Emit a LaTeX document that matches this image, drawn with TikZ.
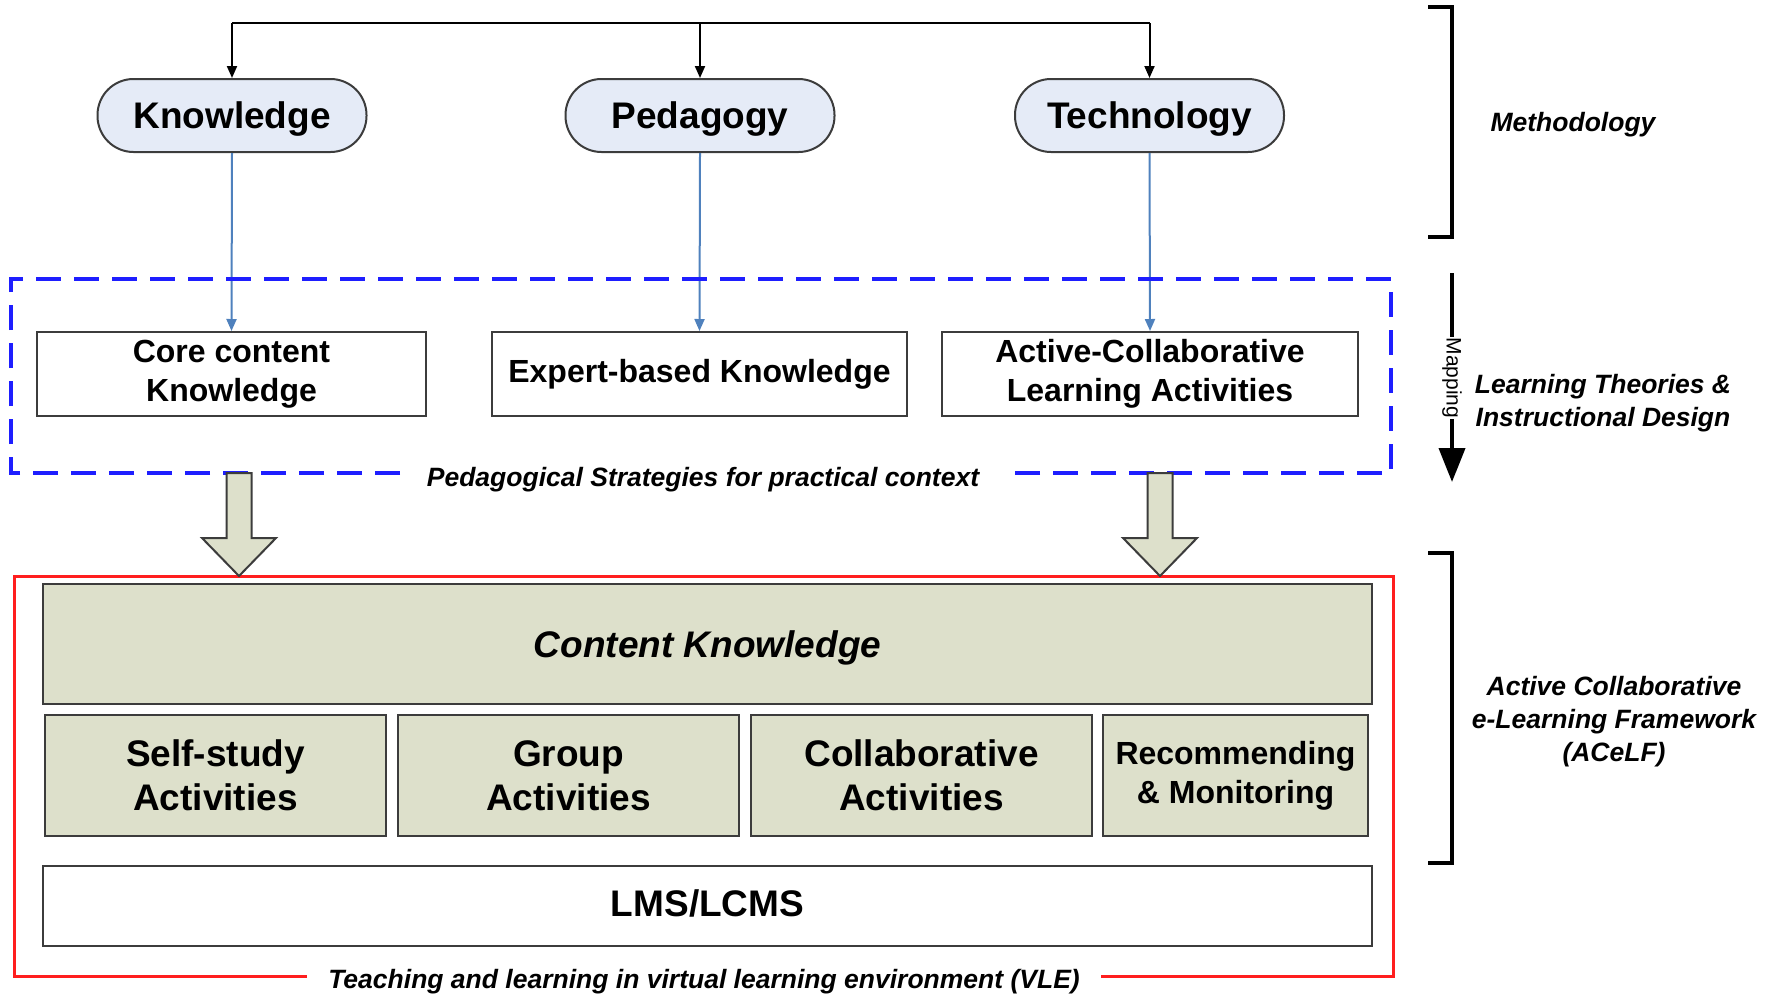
\documentclass[tikz,border=0pt]{standalone}
\usepackage{fontspec}
\setmainfont{Liberation Sans}
\usetikzlibrary{arrows.meta}
\definecolor{ovalfill}{RGB}{229,235,247}
\definecolor{olivefill}{RGB}{221,224,203}
\definecolor{edgegray}{RGB}{60,60,60}
\definecolor{steel}{RGB}{79,129,189}
\definecolor{dashblue}{RGB}{30,30,255}
\definecolor{vlered}{RGB}{255,30,30}
\tikzset{
  oval/.style={draw=edgegray, line width=2pt, fill=ovalfill, rounded corners=36pt,
    minimum width=269pt, minimum height=73pt, inner sep=0pt, text depth=0pt,
    font=\bfseries\fontsize{37}{44}\selectfont},
  midbox/.style={draw=edgegray, line width=2pt, fill=white, inner sep=0pt, align=center,
    minimum height=84pt, font=\bfseries\fontsize{32}{39}\selectfont},
  olivebox/.style={draw=edgegray, line width=2pt, fill=olivefill, inner sep=0pt, align=center,
    font=\bfseries\fontsize{37}{44}\selectfont},
  sidelabel/.style={font=\bfseries\itshape\fontsize{26.5}{32}\selectfont, align=center, inner sep=0pt},
  blackarrow/.style={draw=black, line width=2pt, -{Triangle[length=12pt,width=10pt]}},
  bluearrow/.style={draw=steel, line width=2pt, -{Triangle[length=12pt,width=10pt]}},
  blockarrow/.style={draw=edgegray, line width=2pt, fill=olivefill, line join=miter},
  bracketline/.style={draw=black, line width=4.5pt, line join=miter},
}
\begin{document}
\begin{tikzpicture}[x=1pt,y=-1pt]
\useasboundingbox (0,0) rectangle (1776,993);

% top ovals
\node[oval] (K) at (232,115.5) {Knowledge};
\node[oval] (P) at (700,115.5) {Pedagogy};
\node[oval] (T) at (1149.5,115.5) {Technology};

% top bus
\coordinate (busL) at (232,23);
\coordinate (busM) at (700,23);
\coordinate (busR) at (1149.5,23);
\draw[black, line width=2pt] (busL) -- (busR);
\draw[blackarrow] (busL) -- (K.north);
\draw[blackarrow] (busM) -- (P.north);
\draw[blackarrow] (busR) -- (T.north);

% middle boxes
\node[midbox, minimum width=389pt] (core) at (231.5,374) {Core content\\Knowledge};
\node[midbox, minimum width=415pt] (expert) at (699.5,374) {Expert-based Knowledge};
\node[midbox, minimum width=416pt] (active) at (1150,374) {Active-Collaborative\\Learning Activities};

\draw[bluearrow] (K.south) -- (core.north);
\draw[bluearrow] (P.south) -- (expert.north);
\draw[bluearrow] (T.south) -- (active.north);

% dashed frame
\draw[dashblue, line width=3.5pt, dash pattern=on 25pt off 13pt]
  (400,473) -- (11,473) -- (11,279) -- (1391,279) -- (1391,473) -- (1006,473);
\node[sidelabel, anchor=base] (pedlabel) at (703,486) {Pedagogical Strategies for practical context};

% red frame
\draw[vlered, line width=3pt] (307,976) -- (14,976) -- (14,576) -- (1393,576) -- (1393,976) -- (1101,976);
\node[sidelabel, anchor=base] (vlelabel) at (704,988) {Teaching and learning in virtual learning environment (VLE)};

% block arrows
\foreach \c in {239,1160}{
  \draw[blockarrow] (\c-12.5,473) -- (\c+12.5,473) -- (\c+12.5,538) -- (\c+37,538)
    -- (\c,576) -- (\c-37,538) -- (\c-12.5,538) -- cycle;
}

% bottom boxes
\node[olivebox, minimum width=1329pt, minimum height=120pt, text depth=0pt,
  font=\bfseries\itshape\fontsize{37}{44}\selectfont] (content) at (707.5,644) {Content Knowledge};
\node[olivebox, minimum width=341pt, minimum height=121pt] (self) at (215.5,775.5) {Self-study\\Activities};
\node[olivebox, minimum width=341pt, minimum height=121pt] (group) at (568.5,775.5) {Group\\Activities};
\node[olivebox, minimum width=341pt, minimum height=121pt] (collab) at (921.5,775.5) {Collaborative\\Activities};
\node[olivebox, minimum width=265pt, minimum height=121pt,
  font=\bfseries\fontsize{32}{39}\selectfont] (recom) at (1235.5,775.5) {Recommending\\\& Monitoring};
\node[olivebox, fill=white, minimum width=1329pt, minimum height=80pt] (lms) at (707.5,906) {};
\node[font=\bfseries\fontsize{37}{44}\selectfont, inner sep=0pt] (lmstext) at (707.5,903.5) {LMS/LCMS};

% right side brackets and labels
\draw[bracketline] (1428,7) -- (1452,7) -- (1452,237) -- (1428,237);
\node[sidelabel] (meth) at (1573,124.5) {Methodology};

\coordinate (mapA) at (1452,273);
\coordinate (mapB) at (1452,482);
\draw[black, line width=4pt, -{Triangle[length=34pt,width=26pt]}] (mapA) -- (mapB);
\node[fill=white, rotate=-90, inner sep=1pt, font=\fontsize{21}{25}\selectfont] (maplabel) at (1452,378) {Mapping};
\node[sidelabel, font=\bfseries\itshape\fontsize{26.5}{33}\selectfont] (ltid) at (1603,403) {Learning Theories \&\\Instructional Design};

\draw[bracketline] (1428,553) -- (1452,553) -- (1452,863) -- (1428,863);
\node[sidelabel, font=\bfseries\itshape\fontsize{26.5}{33}\selectfont] (acelf) at (1614,722) {Active Collaborative\\e-Learning Framework\\(ACeLF)};
\end{tikzpicture}
\end{document}
